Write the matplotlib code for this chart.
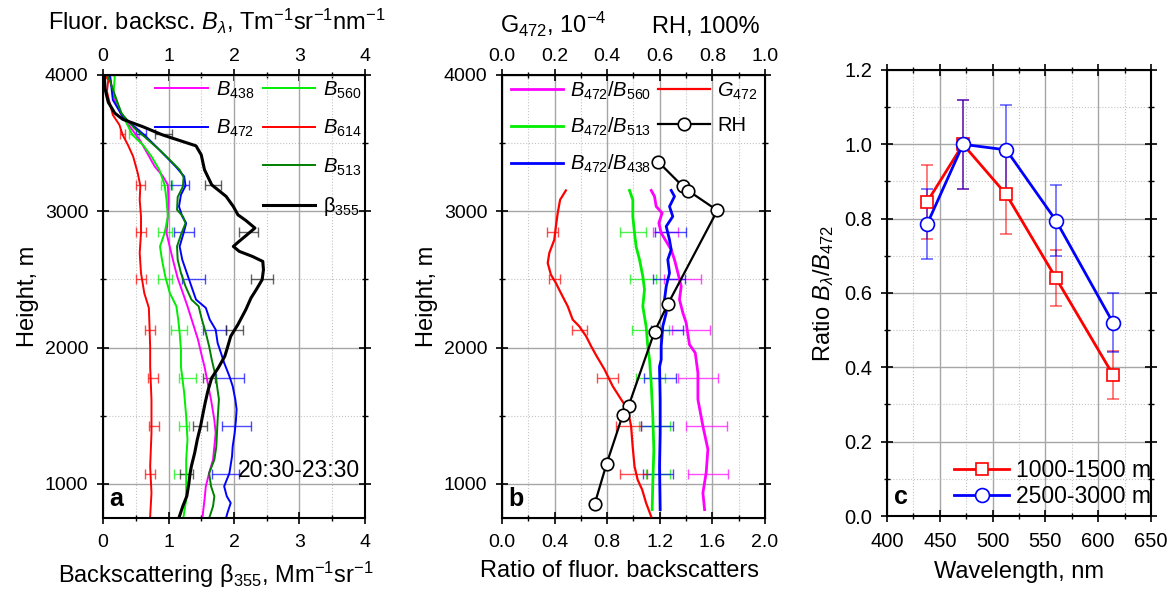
import numpy as np
import matplotlib
matplotlib.use('Agg')
import matplotlib.pyplot as plt
from matplotlib.ticker import MultipleLocator

plt.rcParams['font.family'] = ['Liberation Sans', 'DejaVu Sans']
plt.rcParams['mathtext.fontset'] = 'custom'
plt.rcParams['mathtext.rm'] = 'Liberation Sans'
plt.rcParams['mathtext.it'] = 'Liberation Sans:italic'
plt.rcParams['mathtext.bf'] = 'Liberation Sans:bold'

# ---- panel a: fluorescence backscattering profiles ----
h_b614 = [4000, 3963, 3880, 3817, 3707, 3634, 3560, 3487, 3402, 3280, 3187, 3084, 2962,
          2840, 2694, 2547, 2400, 2291, 2156, 2000, 1860, 1616, 1372, 1128, 933, 762]
b614 = [0.03, 0.08, 0.06, 0.09, 0.15, 0.25, 0.30, 0.38, 0.46, 0.53, 0.57, 0.56, 0.58,
        0.58, 0.56, 0.58, 0.63, 0.70, 0.71, 0.72, 0.72, 0.74, 0.74, 0.72, 0.74, 0.72]

h_b560 = [4000, 3988, 3866, 3744, 3646, 3560, 3487, 3402, 3304, 3194, 3084, 2962, 2840,
          2742, 2645, 2523, 2400, 2303, 2200, 2108, 1985, 1860, 1665, 1494, 1323, 1177,
          1030, 884, 762]
b560 = [0.15, 0.18, 0.16, 0.26, 0.36, 0.45, 0.61, 0.74, 0.86, 0.94, 0.97, 0.99, 0.94,
        0.87, 0.90, 0.95, 1.02, 1.12, 1.15, 1.17, 1.19, 1.19, 1.24, 1.27, 1.29, 1.27,
        1.27, 1.27, 1.23]

h_b438 = [4000, 3988, 3817, 3707, 3609, 3524, 3414, 3328, 3260, 3194, 3084, 2962, 2840,
          2718, 2620, 2510, 2400, 2303, 2181, 2059, 1937, 1860, 1738, 1616, 1470, 1372,
          1274, 1177, 1079, 982, 884, 762]
b438 = [0.05, 0.10, 0.18, 0.28, 0.43, 0.56, 0.69, 0.79, 0.91, 0.99, 1.00, 0.99, 0.97,
        1.03, 1.08, 1.14, 1.22, 1.29, 1.37, 1.45, 1.51, 1.55, 1.60, 1.65, 1.70, 1.72,
        1.70, 1.68, 1.62, 1.57, 1.55, 1.52]

h_b472 = [4000, 3988, 3817, 3695, 3609, 3560, 3475, 3402, 3328, 3255, 3187, 3121, 3035,
          2962, 2913, 2840, 2742, 2645, 2547, 2449, 2352, 2291, 2205, 2132, 2034, 1962,
          1888, 1790, 1717, 1620, 1547, 1470, 1372, 1274, 1201, 1079, 982, 909, 860,
          787, 752]
b472 = [0.08, 0.11, 0.15, 0.30, 0.51, 0.63, 0.81, 0.96, 1.11, 1.24, 1.26, 1.19, 1.16,
        1.21, 1.27, 1.23, 1.17, 1.21, 1.28, 1.35, 1.42, 1.57, 1.63, 1.72, 1.75, 1.80,
        1.85, 1.93, 1.98, 2.02, 2.04, 2.03, 2.01, 1.98, 1.97, 1.93, 1.85, 1.89, 1.95,
        1.90, 1.88]

h_b513 = [4000, 3963, 3719, 3609, 3536, 3451, 3377, 3304, 3250, 3182, 3104, 3011, 2962,
          2913, 2828, 2742, 2645, 2547, 2449, 2352, 2303, 2205, 2107, 2010, 1912, 1790,
          1620, 1470, 1274, 1177, 1079, 982, 909, 836, 762]
b513 = [0.06, 0.10, 0.28, 0.48, 0.66, 0.86, 1.02, 1.17, 1.23, 1.22, 1.14, 1.13, 1.22,
        1.26, 1.19, 1.13, 1.14, 1.19, 1.26, 1.35, 1.46, 1.51, 1.57, 1.62, 1.66, 1.72,
        1.77, 1.75, 1.73, 1.70, 1.62, 1.65, 1.70, 1.68, 1.63]

h_beta = [4000, 3900, 3800, 3720, 3675, 3620, 3560, 3480, 3414, 3304, 3194, 3109, 3035,
          2974, 2933, 2877, 2820, 2772, 2742, 2706, 2669, 2632, 2571, 2498, 2425, 2364,
          2278, 2169, 2083, 2000, 1937, 1851, 1778, 1680, 1595, 1500, 1424, 1326, 1228,
          1131, 1077, 1000, 911, 838, 752]
beta355 = [0.02, 0.03, 0.08, 0.18, 0.30, 0.61, 0.91, 1.42, 1.50, 1.55, 1.66, 1.88, 1.99,
           2.06, 2.18, 2.32, 2.18, 2.06, 1.99, 2.08, 2.28, 2.44, 2.45, 2.43, 2.34, 2.26,
           2.18, 2.06, 1.95, 1.90, 1.86, 1.76, 1.66, 1.60, 1.56, 1.52, 1.49, 1.44, 1.40,
           1.35, 1.33, 1.31, 1.28, 1.22, 1.16]

h_err_a = [3570, 3195, 2845, 2500, 2130, 1780, 1425, 1075]
eb614 = [0.30, 0.57, 0.58, 0.58, 0.72, 0.76, 0.78, 0.72]
ee614 = [0.04, 0.07, 0.07, 0.07, 0.08, 0.08, 0.08, 0.08]
eb560 = [0.47, 0.97, 0.95, 0.95, 1.16, 1.29, 1.24, 1.20]
ee560 = [0.08, 0.09, 0.11, 0.11, 0.12, 0.13, 0.08, 0.12]
eb472 = [0.58, 1.18, 1.24, 1.38, 1.70, 1.94, 2.04, 1.87]
ee472 = [0.08, 0.14, 0.15, 0.17, 0.18, 0.22, 0.22, 0.20]
ebeta = [0.92, 1.68, 2.22, 2.43, 2.01, 1.62, 1.48, 1.27]
eebeta = [0.13, 0.12, 0.15, 0.17, 0.13, 0.09, 0.11, 0.10]

# ---- panel b: ratios, G472 and RH ----
h_g = [3153, 3084, 2987, 2889, 2791, 2694, 2620, 2535, 2474, 2400, 2303, 2205, 2156,
       2083, 2010, 1937, 1839, 1717, 1620, 1547, 1424, 1274, 1128, 1030, 958, 860, 762]
g472 = [0.243, 0.221, 0.212, 0.205, 0.199, 0.180, 0.174, 0.186, 0.205, 0.224, 0.250,
        0.269, 0.294, 0.320, 0.339, 0.360, 0.390, 0.421, 0.453, 0.478, 0.491, 0.497,
        0.504, 0.516, 0.533, 0.548, 0.567]

h_r560 = [3153, 3109, 3035, 2987, 2913, 2840, 2779, 2718, 2645, 2547, 2449, 2352, 2254,
          2181, 2095, 2022, 1961, 1815, 1620, 1424, 1254, 1083, 933, 811]
r560 = [1.135, 1.160, 1.173, 1.218, 1.193, 1.211, 1.249, 1.287, 1.312, 1.338, 1.363,
        1.350, 1.376, 1.401, 1.414, 1.426, 1.470, 1.49, 1.49, 1.528, 1.566, 1.553,
        1.528, 1.541]

h_r513 = [3153, 3084, 2962, 2840, 2742, 2645, 2523, 2425, 2303, 2156, 2010, 1912, 1738,
          1494, 1250, 1006, 811]
r513 = [0.970, 0.995, 0.995, 1.008, 1.020, 1.046, 1.071, 1.084, 1.071, 1.096, 1.109,
        1.122, 1.135, 1.147, 1.155, 1.147, 1.142]

h_r438 = [3153, 3109, 3035, 2962, 2889, 2791, 2718, 2645, 2547, 2449, 2352, 2254, 2156,
          2010, 1912, 1860, 1616, 1372, 1128, 811]
r438 = [1.287, 1.312, 1.274, 1.299, 1.249, 1.274, 1.287, 1.261, 1.274, 1.249, 1.236,
        1.249, 1.223, 1.211, 1.211, 1.198, 1.203, 1.203, 1.198, 1.203]

h_rh = [3365, 3182, 3150, 3006, 2320, 2117, 1575, 1504, 1148, 850]
rh = [0.593, 0.688, 0.709, 0.819, 0.631, 0.580, 0.482, 0.459, 0.398, 0.352]

h_err_b = [2845, 2500, 2130, 1780, 1425, 1075]
eg = [0.193, 0.199, 0.295, 0.403, 0.482, 0.500]
eeg = [0.02, 0.02, 0.03, 0.04, 0.048, 0.05]
er560 = [1.244, 1.376, 1.44, 1.49, 1.556, 1.566]
eer560 = [0.095, 0.14, 0.145, 0.15, 0.155, 0.155]
er513 = [0.998, 1.071, 1.13, 1.13, 1.16, 1.185]
eer513 = [0.10, 0.10, 0.14, 0.11, 0.115, 0.09]
er438 = [1.28, 1.27, 1.254, 1.2, 1.18, 1.185]
eer438 = [0.12, 0.12, 0.12, 0.12, 0.12, 0.115]

# ---- panel c: spectra ----
wavelength = [438, 472, 513, 560, 614]
ratio_low = [0.845, 1.0, 0.865, 0.64, 0.38]
err_low = [0.10, 0.12, 0.105, 0.075, 0.065]
ratio_high = [0.785, 1.0, 0.985, 0.795, 0.52]
err_high = [0.094, 0.12, 0.12, 0.095, 0.08]

MAGENTA = '#ff00ff'
GREEN = '#00ee00'
BLUE = '#0000ff'
RED = '#ff0000'
DGREEN = '#008000'

TICK_FS = 14
LABEL_FS = 17
LEG_FS = 14.5


def style_axes(ax, labelsize=TICK_FS):
    ax.tick_params(which='major', direction='inout', length=9, width=1.2,
                   labelsize=labelsize, top=True, right=True)
    ax.tick_params(which='minor', direction='inout', length=5, width=1,
                   top=True, right=True)
    ax.tick_params(axis='x', which='major', pad=7)
    ax.tick_params(axis='y', which='major', pad=6)
    for s in ax.spines.values():
        s.set_linewidth(1.5)
    ax.grid(which='major', color='#a6a6a6', lw=1)
    ax.grid(which='minor', color='#c4c4c4', lw=0.8, ls=':')
    ax.set_axisbelow(True)


def style_top(ax, step, minor):
    ax.xaxis.set_major_locator(MultipleLocator(step))
    ax.xaxis.set_minor_locator(MultipleLocator(minor))
    ax.tick_params(which='major', direction='inout', length=9, width=1.2,
                   labelsize=TICK_FS, pad=3)
    ax.tick_params(which='minor', direction='inout', length=5, width=1)


def height_axis(ax):
    ax.set_ylim(750, 4000)
    ax.yaxis.set_major_locator(MultipleLocator(1000))
    ax.yaxis.set_minor_locator(MultipleLocator(500))
    ax.set_ylabel('Height, m', fontsize=LABEL_FS, labelpad=4)


fig = plt.figure(figsize=(11.72, 5.94), dpi=100)
ax_a = fig.add_axes([0.0879, 0.128, 0.2235, 0.7458])
ax_b = fig.add_axes([0.4283, 0.128, 0.2244, 0.7458])
ax_c = fig.add_axes([0.7568, 0.1313, 0.2253, 0.7509])

# panel a
style_axes(ax_a)
height_axis(ax_a)
ax_a.set_xlim(0, 4)
ax_a.xaxis.set_major_locator(MultipleLocator(1))
ax_a.xaxis.set_minor_locator(MultipleLocator(0.5))
ax_a.tick_params(top=False, which='both')
ax_a.set_xlabel('Backscattering β$_{355}$, Mm$^{-1}$sr$^{-1}$', fontsize=LABEL_FS)
ax_a.xaxis.set_label_coords(0.43, -0.095)
top_a = ax_a.secondary_xaxis('top')
style_top(top_a, 1, 0.5)
fig.text(0.185, 0.9495, 'Fluor. backsc. $B_{\\lambda}$, Tm$^{-1}$sr$^{-1}$nm$^{-1}$',
         fontsize=LABEL_FS, ha='center', va='baseline')

err_kw = dict(fmt='none', capsize=3.5, elinewidth=1, capthick=1, alpha=0.7)
ax_a.errorbar(eb614, h_err_a, xerr=ee614, ecolor=RED, **err_kw)
ax_a.errorbar(eb560, h_err_a, xerr=ee560, ecolor=GREEN, **err_kw)
ax_a.errorbar(eb472, h_err_a, xerr=ee472, ecolor=BLUE, **err_kw)
ax_a.errorbar(ebeta, h_err_a, xerr=eebeta, ecolor='#202020', **err_kw)

l438, = ax_a.plot(b438, h_b438, color=MAGENTA, lw=1.4)
l560, = ax_a.plot(b560, h_b560, color=GREEN, lw=1.4)
l472, = ax_a.plot(b472, h_b472, color=BLUE, lw=1.4)
l614, = ax_a.plot(b614, h_b614, color=RED, lw=1.4)
l513, = ax_a.plot(b513, h_b513, color=DGREEN, lw=1.4)
lbeta, = ax_a.plot(beta355, h_beta, color='black', lw=2.2)

leg_kw = dict(frameon=False, fontsize=LEG_FS, handlelength=2.6, handletextpad=0.4,
              labelspacing=0.85, borderpad=0, borderaxespad=0)
leg1 = ax_a.legend([l438, l472], ['$B_{438}$', '$B_{472}$'], loc='upper left',
                   bbox_to_anchor=(0.2, 0.99), **leg_kw)
ax_a.add_artist(leg1)
ax_a.legend([l560, l614, l513, lbeta],
            ['$B_{560}$', '$B_{614}$', '$B_{513}$', 'β$_{355}$'],
            loc='upper left', bbox_to_anchor=(0.61, 0.99), **leg_kw)
ax_a.text(0.515, 0.108, '20:30-23:30', transform=ax_a.transAxes, fontsize=16.5,
          va='center', ha='left')
ax_a.text(0.025, 0.015, 'a', transform=ax_a.transAxes, fontsize=18,
          fontweight='bold', va='bottom')

# panel b
style_axes(ax_b)
height_axis(ax_b)
ax_b.set_xlim(0, 2)
ax_b.xaxis.set_major_locator(MultipleLocator(0.4))
ax_b.xaxis.set_minor_locator(MultipleLocator(0.2))
ax_b.xaxis.set_major_formatter('{x:.1f}')
ax_b.set_xlabel('Ratio of fluor. backscatters', fontsize=LABEL_FS)
ax_b.xaxis.set_label_coords(0.445, -0.095)
top_b = ax_b.twiny()
top_b.set_xlim(0, 1)
style_top(top_b, 0.2, 0.1)
top_b.xaxis.set_major_formatter('{x:.1f}')
fig.text(0.4723, 0.9444, 'G$_{472}$, 10$^{-4}$', fontsize=LABEL_FS,
         ha='center', va='baseline')
fig.text(0.602, 0.9444, 'RH, 100%', fontsize=LABEL_FS, ha='center', va='baseline')

ax_b.errorbar(er560, h_err_b, xerr=eer560, ecolor=MAGENTA, **err_kw)
ax_b.errorbar(er513, h_err_b, xerr=eer513, ecolor=GREEN, **err_kw)
ax_b.errorbar(er438, h_err_b, xerr=eer438, ecolor=BLUE, **err_kw)
top_b.errorbar(eg, h_err_b, xerr=eeg, ecolor=RED, **err_kw)

r1, = ax_b.plot(r560, h_r560, color=MAGENTA, lw=2)
r2, = ax_b.plot(r513, h_r513, color=GREEN, lw=2)
r3, = ax_b.plot(r438, h_r438, color=BLUE, lw=2)
g1, = top_b.plot(g472, h_g, color=RED, lw=1.6)
rh1, = top_b.plot(rh, h_rh, color='black', lw=1.6, marker='o', ms=9,
                  mfc='white', mec='black', mew=1.2)
top_b.set_ylim(750, 4000)
ax_b.legend([r1, r2, r3, g1, rh1],
            ['$B_{472}/B_{560}$', '$B_{472}/B_{513}$', '$B_{472}/B_{438}$',
             '$G_{472}$', 'RH'],
            ncol=2, loc='upper left', bbox_to_anchor=(0.034, 0.99),
            columnspacing=0.3, frameon=False, fontsize=LEG_FS, handlelength=2.6,
            handletextpad=0.35, labelspacing=0.72, borderpad=0, borderaxespad=0)
ax_b.text(0.025, 0.015, 'b', transform=ax_b.transAxes, fontsize=18,
          fontweight='bold', va='bottom')

# panel c
style_axes(ax_c, labelsize=14.5)
ax_c.set_xlim(400, 650)
ax_c.set_ylim(0, 1.2)
ax_c.xaxis.set_major_locator(MultipleLocator(50))
ax_c.xaxis.set_minor_locator(MultipleLocator(25))
ax_c.yaxis.set_major_locator(MultipleLocator(0.2))
ax_c.yaxis.set_minor_locator(MultipleLocator(0.1))
ax_c.yaxis.set_major_formatter('{x:.1f}')
ax_c.set_xlabel('Wavelength, nm', fontsize=LABEL_FS)
ax_c.xaxis.set_label_coords(0.5, -0.1)
ax_c.set_ylabel('Ratio $B_{\\lambda}/B_{472}$', fontsize=LABEL_FS, labelpad=6)
ax_c.errorbar(wavelength, ratio_low, yerr=err_low, fmt='none', ecolor=RED,
              capsize=4, elinewidth=1.2, capthick=1.2, alpha=0.6)
ax_c.errorbar(wavelength, ratio_high, yerr=err_high, fmt='none', ecolor=BLUE,
              capsize=4, elinewidth=1.2, capthick=1.2, alpha=0.6)
ax_c.plot(wavelength, ratio_low, color=RED, lw=2, marker='s', ms=9,
          mfc='white', mec=RED, mew=1.2, label='1000-1500 m')
ax_c.plot(wavelength, ratio_high, color=BLUE, lw=2, marker='o', ms=10,
          mfc='white', mec=BLUE, mew=1.2, label='2500-3000 m')
ax_c.legend(loc='lower right', bbox_to_anchor=(1.0, 0.018), frameon=False,
            fontsize=16.5, handlelength=2.4, handletextpad=0.3, labelspacing=0.15,
            borderpad=0, borderaxespad=0)
ax_c.text(0.025, 0.015, 'c', transform=ax_c.transAxes, fontsize=18,
          fontweight='bold', va='bottom')

fig.savefig('out.png', dpi=100)
